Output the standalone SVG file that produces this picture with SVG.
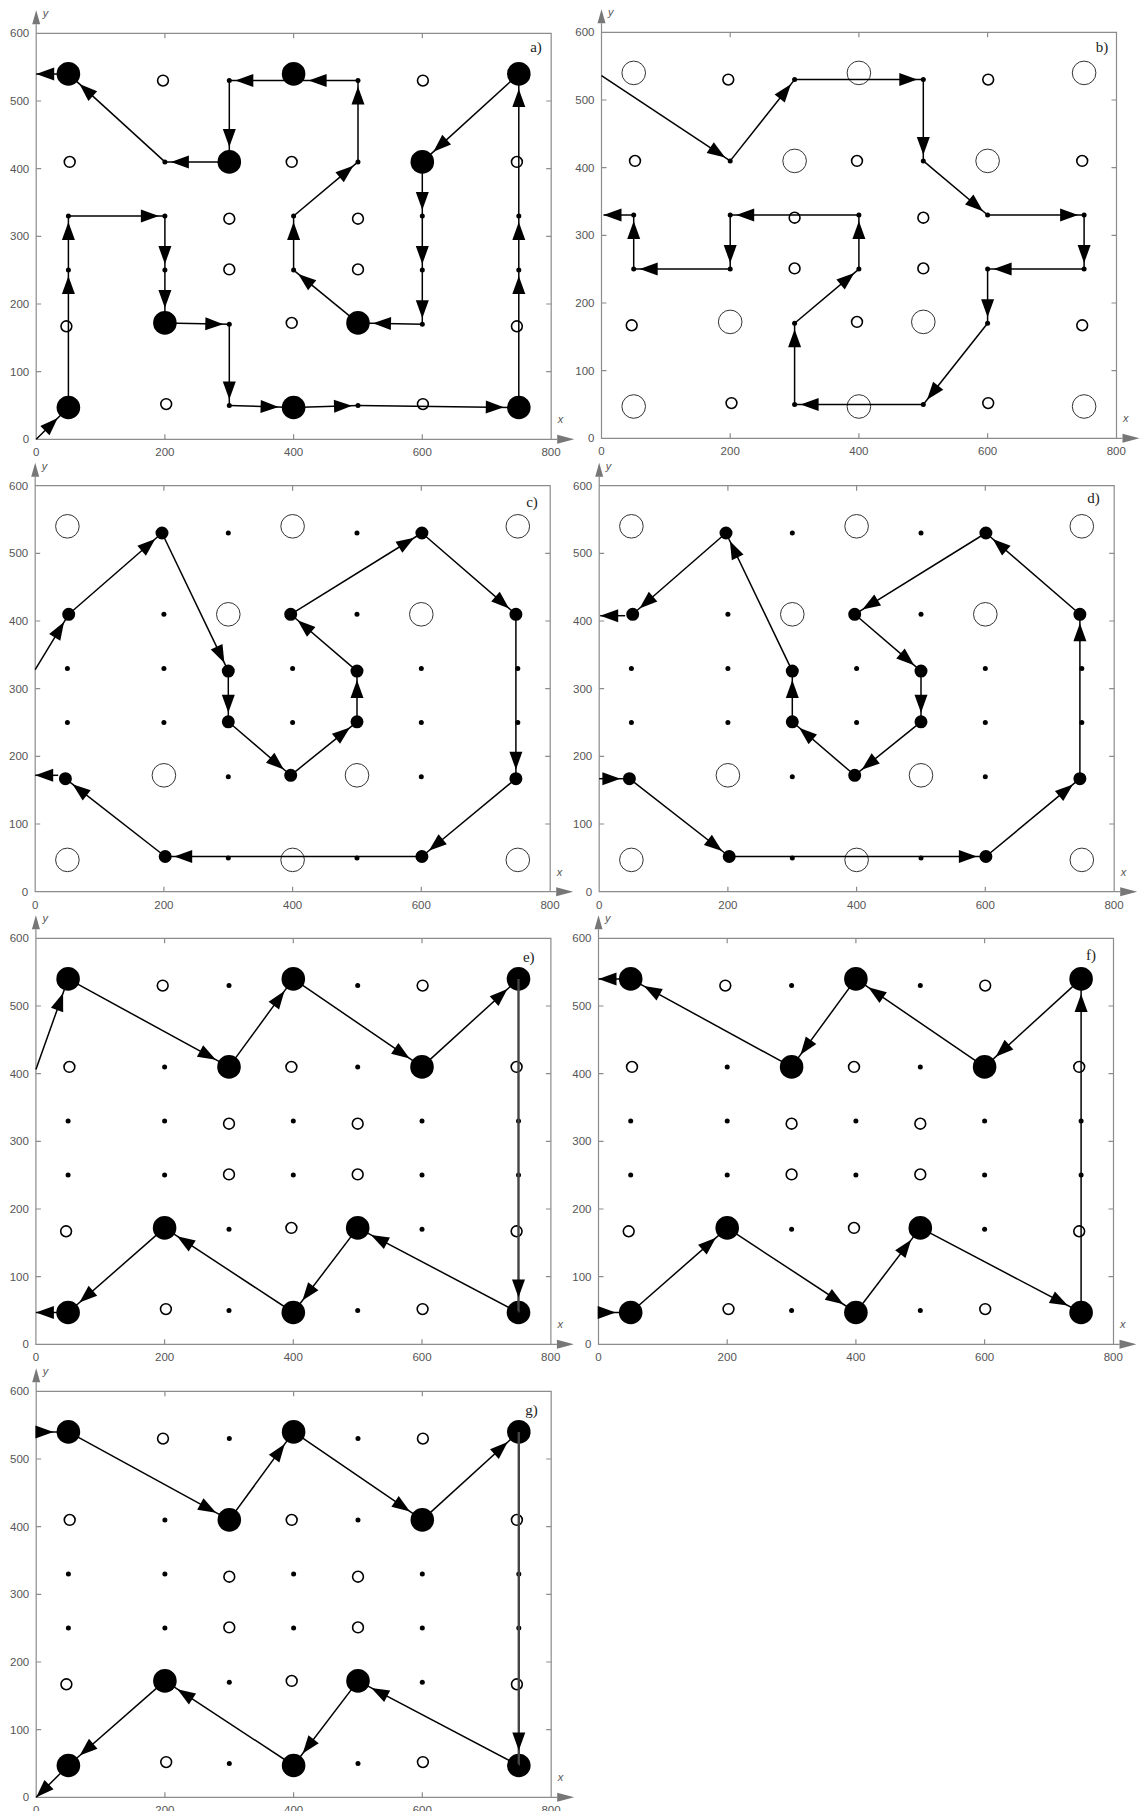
<svg xmlns="http://www.w3.org/2000/svg" width="1142" height="1811" viewBox="0 0 1142 1811">
<style>
.fr{fill:none;stroke:#8c8c8c;stroke-width:1.2}
.ah{fill:#777}
.tl{font-family:"Liberation Sans",Arial,sans-serif;font-size:11.5px;fill:#555}
.tx{text-anchor:middle}
.ty{text-anchor:end}
.ax{font-family:"Liberation Sans",Arial,sans-serif;font-size:11px;font-style:italic;fill:#555}
.pl{font-family:"Liberation Serif","Times New Roman",serif;font-size:15px;fill:#222;text-anchor:middle}
.bigF{fill:#000}
.bigO{fill:none;stroke:#333;stroke-width:1}
.midO{fill:none;stroke:#000;stroke-width:1.6}
.midF{fill:#000;stroke:#000;stroke-width:2.2}
.dot{fill:#000}
.c line{stroke:#000;stroke-width:1.5;fill:none}
.c .d{marker-end:url(#hd)}
.c .m{marker-end:url(#hm)}
.c .b{marker-end:url(#hb)}
.c .e{marker-end:url(#he)}
.c .g{stroke:#444;stroke-width:2.4}
</style>
<defs>
<marker id="hd" markerUnits="userSpaceOnUse" markerWidth="18" markerHeight="13" refX="24" refY="6.5" orient="auto" overflow="visible"><path d="M0,0 L18,6.5 L0,13 Z" fill="#000"/></marker>
<marker id="hm" markerUnits="userSpaceOnUse" markerWidth="18" markerHeight="13" refX="27" refY="6.5" orient="auto" overflow="visible"><path d="M0,0 L18,6.5 L0,13 Z" fill="#000"/></marker>
<marker id="hb" markerUnits="userSpaceOnUse" markerWidth="18" markerHeight="13" refX="33" refY="6.5" orient="auto" overflow="visible"><path d="M0,0 L18,6.5 L0,13 Z" fill="#000"/></marker>
<marker id="he" markerUnits="userSpaceOnUse" markerWidth="18" markerHeight="13" refX="18" refY="6.5" orient="auto" overflow="visible"><path d="M0,0 L18,6.5 L0,13 Z" fill="#000"/></marker>
<g id="frame">
<path class="fr" d="M0,-415V0H521M0,-406H515V0"/>
<path class="fr" d="M128.7,0v-5M257.4,0v-5M386.1,0v-5M128.7,-406v5M257.4,-406v5M386.1,-406v5M0,-67.7h5M0,-135.3h5M0,-203h5M0,-270.7h5M0,-338.3h5M515,-67.7h-5M515,-135.3h-5M515,-203h-5M515,-270.7h-5M515,-338.3h-5"/>
<path class="ah" d="M521,-4.5L538,0L521,4.5Z M-4,-415L0,-429L4,-415Z"/>
<g class="tl tx">
<text x="0" y="17">0</text><text x="128.7" y="17">200</text><text x="257.4" y="17">400</text><text x="386.1" y="17">600</text><text x="514.8" y="17">800</text>
</g>
<g class="tl ty">
<text x="-7" y="4">0</text><text x="-7" y="-63.7">100</text><text x="-7" y="-131.3">200</text><text x="-7" y="-199">300</text><text x="-7" y="-266.7">400</text><text x="-7" y="-334.3">500</text><text x="-7" y="-402">600</text>
</g>
<text class="ax" x="6.5" y="-422">y</text>
<text class="ax" x="521.5" y="-16">x</text>
</g>
<g id="pBig">
<circle cx="32.2" cy="-365.4" r="11.8"/><circle cx="257.4" cy="-365.4" r="11.8"/><circle cx="482.6" cy="-365.4" r="11.8"/>
<circle cx="193.1" cy="-277.4" r="11.8"/><circle cx="386.1" cy="-277.4" r="11.8"/>
<circle cx="128.7" cy="-116.4" r="11.8"/><circle cx="321.8" cy="-116.4" r="11.8"/>
<circle cx="32.2" cy="-31.8" r="11.8"/><circle cx="257.4" cy="-31.8" r="11.8"/><circle cx="482.6" cy="-31.8" r="11.8"/>
</g>
<g id="pMid">
<circle cx="126.8" cy="-358.7" r="5.4"/><circle cx="386.7" cy="-358.7" r="5.4"/>
<circle cx="33.5" cy="-277.4" r="5.4"/><circle cx="255.5" cy="-277.4" r="5.4"/><circle cx="480.7" cy="-277.4" r="5.4"/>
<circle cx="193.1" cy="-220.6" r="5.4"/><circle cx="321.8" cy="-220.6" r="5.4"/>
<circle cx="193.1" cy="-169.9" r="5.4"/><circle cx="321.8" cy="-169.9" r="5.4"/>
<circle cx="30.2" cy="-113" r="5.4"/><circle cx="255.5" cy="-116.4" r="5.4"/><circle cx="480.7" cy="-113" r="5.4"/>
<circle cx="130" cy="-35.2" r="5.4"/><circle cx="386.7" cy="-35.2" r="5.4"/>
</g>
<g id="pDot">
<circle cx="193.1" cy="-358.7" r="2.5"/><circle cx="321.8" cy="-358.7" r="2.5"/>
<circle cx="128.7" cy="-277.4" r="2.5"/><circle cx="321.8" cy="-277.4" r="2.5"/>
<circle cx="32.2" cy="-223.3" r="2.5"/><circle cx="128.7" cy="-223.3" r="2.5"/><circle cx="257.4" cy="-223.3" r="2.5"/><circle cx="386.1" cy="-223.3" r="2.5"/><circle cx="482.6" cy="-223.3" r="2.5"/>
<circle cx="32.2" cy="-169.2" r="2.5"/><circle cx="128.7" cy="-169.2" r="2.5"/><circle cx="257.4" cy="-169.2" r="2.5"/><circle cx="386.1" cy="-169.2" r="2.5"/><circle cx="482.6" cy="-169.2" r="2.5"/>
<circle cx="193.1" cy="-115" r="2.5"/><circle cx="386.1" cy="-115" r="2.5"/>
<circle cx="193.1" cy="-33.8" r="2.5"/><circle cx="321.8" cy="-33.8" r="2.5"/>
</g>
</defs>
<rect width="1142" height="1811" fill="#fff"/>

<g id="panel-a" transform="translate(36.2,439.3)">
<use href="#frame"/>
<g id="nodes-a"><use href="#pBig" class="bigF"/><use href="#pMid" class="midO"/><use href="#pDot" class="dot"/></g>
<g id="connectors-a" class="c">
<line class="b" x1="0" y1="0" x2="32.2" y2="-31.8"/>
<line class="d" x1="32.2" y1="-31.8" x2="32.2" y2="-169.2"/>
<line class="d" x1="32.2" y1="-169.2" x2="32.2" y2="-223.3"/>
<line class="d" x1="32.2" y1="-223.3" x2="128.7" y2="-223.3"/>
<line class="d" x1="128.7" y1="-223.3" x2="128.7" y2="-169.2"/>
<line class="b" x1="128.7" y1="-169.2" x2="128.7" y2="-116.4"/>
<line class="d" x1="128.7" y1="-116.4" x2="193.1" y2="-115"/>
<line class="d" x1="193.1" y1="-115" x2="193.1" y2="-33.8"/>
<line class="b" x1="193.1" y1="-33.8" x2="257.4" y2="-31.8"/>
<line class="d" x1="257.4" y1="-31.8" x2="321.8" y2="-33.8"/>
<line class="b" x1="321.8" y1="-33.8" x2="482.6" y2="-31.8"/>
<line class="d" x1="482.6" y1="-31.8" x2="482.6" y2="-169.2"/>
<line class="d" x1="482.6" y1="-169.2" x2="482.6" y2="-223.3"/>
<line class="b" x1="482.6" y1="-223.3" x2="482.6" y2="-365.4"/>
<line class="b" x1="482.6" y1="-365.4" x2="386.1" y2="-277.4"/>
<line class="d" x1="386.1" y1="-277.4" x2="386.1" y2="-223.3"/>
<line class="d" x1="386.1" y1="-223.3" x2="386.1" y2="-169.2"/>
<line class="d" x1="386.1" y1="-169.2" x2="386.1" y2="-115"/>
<line class="b" x1="386.1" y1="-115" x2="321.8" y2="-116.4"/>
<line class="d" x1="321.8" y1="-116.4" x2="257.4" y2="-169.2"/>
<line class="d" x1="257.4" y1="-169.2" x2="257.4" y2="-223.3"/>
<line class="d" x1="257.4" y1="-223.3" x2="321.8" y2="-277.4"/>
<line class="d" x1="321.8" y1="-277.4" x2="321.8" y2="-358.7"/>
<line class="b" x1="321.8" y1="-358.7" x2="257.4" y2="-358.7"/>
<line class="d" x1="257.4" y1="-358.7" x2="193.1" y2="-358.7"/>
<line class="b" x1="193.1" y1="-358.7" x2="193.1" y2="-277.4"/>
<line class="d" x1="193.1" y1="-277.4" x2="128.7" y2="-277.4"/>
<line class="b" x1="128.7" y1="-277.4" x2="32.2" y2="-365.4"/>
<line class="e" x1="32.2" y1="-365.4" x2="0" y2="-365.4"/>
</g>
<text class="pl" x="499.8" y="-387.3">a)</text>
</g>

<g id="panel-b" transform="translate(601.5,438.3)">
<use href="#frame"/>
<g id="nodes-b"><use href="#pBig" class="bigO"/><use href="#pMid" class="midO"/><use href="#pDot" class="dot"/></g>
<g id="connectors-b" class="c">
<line class="d" x1="0" y1="-362.7" x2="128.7" y2="-277.4"/>
<line class="d" x1="128.7" y1="-277.4" x2="193.1" y2="-358.7"/>
<line class="d" x1="193.1" y1="-358.7" x2="321.8" y2="-358.7"/>
<line class="d" x1="321.8" y1="-358.7" x2="321.8" y2="-277.4"/>
<line class="d" x1="321.8" y1="-277.4" x2="386.1" y2="-223.3"/>
<line class="d" x1="386.1" y1="-223.3" x2="482.6" y2="-223.3"/>
<line class="d" x1="482.6" y1="-223.3" x2="482.6" y2="-169.2"/>
<line class="d" x1="482.6" y1="-169.2" x2="386.1" y2="-169.2"/>
<line class="d" x1="386.1" y1="-169.2" x2="386.1" y2="-115"/>
<line class="d" x1="386.1" y1="-115" x2="321.8" y2="-33.8"/>
<line class="d" x1="321.8" y1="-33.8" x2="193.1" y2="-33.8"/>
<line class="d" x1="193.1" y1="-33.8" x2="193.1" y2="-115"/>
<line class="d" x1="193.1" y1="-115" x2="257.4" y2="-169.2"/>
<line class="d" x1="257.4" y1="-169.2" x2="257.4" y2="-223.3"/>
<line class="d" x1="257.4" y1="-223.3" x2="128.7" y2="-223.3"/>
<line class="d" x1="128.7" y1="-223.3" x2="128.7" y2="-169.2"/>
<line class="d" x1="128.7" y1="-169.2" x2="32.2" y2="-169.2"/>
<line class="d" x1="32.2" y1="-169.2" x2="32.2" y2="-223.3"/>
<line class="e" x1="32.2" y1="-223.3" x2="2" y2="-223.3"/>
</g>
<text class="pl" x="500.6" y="-386">b)</text>
</g>

<g id="panel-c" transform="translate(35.2,891.7)">
<use href="#frame"/>
<g id="nodes-c"><use href="#pBig" class="bigO"/><use href="#pMid" class="midF"/><use href="#pDot" class="dot"/></g>
<g id="connectors-c" class="c">
<line class="m" x1="0" y1="-222" x2="33.5" y2="-277.4"/>
<line class="m" x1="33.5" y1="-277.4" x2="126.8" y2="-358.7"/>
<line class="m" x1="126.8" y1="-358.7" x2="193.1" y2="-220.6"/>
<line class="m" x1="193.1" y1="-220.6" x2="193.1" y2="-169.9"/>
<line class="m" x1="193.1" y1="-169.9" x2="255.5" y2="-116.4"/>
<line class="m" x1="255.5" y1="-116.4" x2="321.8" y2="-169.9"/>
<line class="m" x1="321.8" y1="-169.9" x2="321.8" y2="-220.6"/>
<line class="m" x1="321.8" y1="-220.6" x2="255.5" y2="-277.4"/>
<line class="m" x1="255.5" y1="-277.4" x2="386.7" y2="-358.7"/>
<line class="m" x1="386.7" y1="-358.7" x2="480.7" y2="-277.4"/>
<line class="m" x1="480.7" y1="-277.4" x2="480.7" y2="-113"/>
<line class="m" x1="480.7" y1="-113" x2="386.7" y2="-35.2"/>
<line class="m" x1="386.7" y1="-35.2" x2="130" y2="-35.2"/>
<line class="m" x1="130" y1="-35.2" x2="30.2" y2="-113"/>
<line class="e" x1="23" y1="-116.4" x2="0" y2="-116.4"/>
</g>
<text class="pl" x="496.8" y="-385.2">c)</text>
</g>

<g id="panel-d" transform="translate(599.2,891.7)">
<use href="#frame"/>
<g id="nodes-d"><use href="#pBig" class="bigO"/><use href="#pMid" class="midF"/><use href="#pDot" class="dot"/></g>
<g id="connectors-d" class="c">
<line class="m" x1="0" y1="-113" x2="30.2" y2="-113"/>
<line class="m" x1="30.2" y1="-113" x2="130" y2="-35.2"/>
<line class="m" x1="130" y1="-35.2" x2="386.7" y2="-35.2"/>
<line class="m" x1="386.7" y1="-35.2" x2="480.7" y2="-113"/>
<line class="m" x1="480.7" y1="-113" x2="480.7" y2="-277.4"/>
<line class="m" x1="480.7" y1="-277.4" x2="386.7" y2="-358.7"/>
<line class="m" x1="386.7" y1="-358.7" x2="255.5" y2="-277.4"/>
<line class="m" x1="255.5" y1="-277.4" x2="321.8" y2="-220.6"/>
<line class="m" x1="321.8" y1="-220.6" x2="321.8" y2="-169.9"/>
<line class="m" x1="321.8" y1="-169.9" x2="255.5" y2="-116.4"/>
<line class="m" x1="255.5" y1="-116.4" x2="193.1" y2="-169.9"/>
<line class="m" x1="193.1" y1="-169.9" x2="193.1" y2="-220.6"/>
<line class="m" x1="193.1" y1="-220.6" x2="126.8" y2="-358.7"/>
<line class="m" x1="126.8" y1="-358.7" x2="33.5" y2="-277.4"/>
<line class="e" x1="26" y1="-276" x2="1" y2="-276"/>
</g>
<text class="pl" x="494.3" y="-388.4">d)</text>
</g>

<g id="panel-e" transform="translate(35.9,1344.3)">
<use href="#frame"/>
<g id="nodes-e"><use href="#pBig" class="bigF"/><use href="#pMid" class="midO"/><use href="#pDot" class="dot"/></g>
<g id="connectors-e" class="c">
<line class="b" x1="0" y1="-274.7" x2="32.2" y2="-365.4"/>
<line class="b" x1="32.2" y1="-365.4" x2="193.1" y2="-277.4"/>
<line class="b" x1="193.1" y1="-277.4" x2="257.4" y2="-365.4"/>
<line class="b" x1="257.4" y1="-365.4" x2="386.1" y2="-277.4"/>
<line class="b" x1="386.1" y1="-277.4" x2="482.6" y2="-365.4"/>
<line class="b g" x1="482.6" y1="-365.4" x2="482.6" y2="-31.8"/>
<line class="b" x1="482.6" y1="-31.8" x2="321.8" y2="-116.4"/>
<line class="b" x1="321.8" y1="-116.4" x2="257.4" y2="-31.8"/>
<line class="b" x1="257.4" y1="-31.8" x2="128.7" y2="-116.4"/>
<line class="b" x1="128.7" y1="-116.4" x2="32.2" y2="-31.8"/>
<line class="e" x1="32.2" y1="-31.8" x2="0" y2="-31.8"/>
</g>
<text class="pl" x="492.9" y="-382">e)</text>
</g>

<g id="panel-f" transform="translate(598.5,1344.3)">
<use href="#frame"/>
<g id="nodes-f"><use href="#pBig" class="bigF"/><use href="#pMid" class="midO"/><use href="#pDot" class="dot"/></g>
<g id="connectors-f" class="c">
<line class="b" x1="0" y1="-31.8" x2="32.2" y2="-31.8"/>
<line class="b" x1="32.2" y1="-31.8" x2="128.7" y2="-116.4"/>
<line class="b" x1="128.7" y1="-116.4" x2="257.4" y2="-31.8"/>
<line class="b" x1="257.4" y1="-31.8" x2="321.8" y2="-116.4"/>
<line class="b" x1="321.8" y1="-116.4" x2="482.6" y2="-31.8"/>
<line class="b" x1="482.6" y1="-31.8" x2="482.6" y2="-365.4"/>
<line class="b" x1="482.6" y1="-365.4" x2="386.1" y2="-277.4"/>
<line class="b" x1="386.1" y1="-277.4" x2="257.4" y2="-365.4"/>
<line class="b" x1="257.4" y1="-365.4" x2="193.1" y2="-277.4"/>
<line class="b" x1="193.1" y1="-277.4" x2="32.2" y2="-365.4"/>
<line class="e" x1="32.2" y1="-365.4" x2="0" y2="-365.4"/>
</g>
<text class="pl" x="492.5" y="-384.3">f)</text>
</g>

<g id="panel-g" transform="translate(36.2,1797.3)">
<use href="#frame"/>
<g id="nodes-g"><use href="#pBig" class="bigF"/><use href="#pMid" class="midO"/><use href="#pDot" class="dot"/></g>
<g id="connectors-g" class="c">
<line class="b" x1="0" y1="-365.4" x2="32.2" y2="-365.4"/>
<line class="b" x1="32.2" y1="-365.4" x2="193.1" y2="-277.4"/>
<line class="b" x1="193.1" y1="-277.4" x2="257.4" y2="-365.4"/>
<line class="b" x1="257.4" y1="-365.4" x2="386.1" y2="-277.4"/>
<line class="b" x1="386.1" y1="-277.4" x2="482.6" y2="-365.4"/>
<line class="b g" x1="482.6" y1="-365.4" x2="482.6" y2="-31.8"/>
<line class="b" x1="482.6" y1="-31.8" x2="321.8" y2="-116.4"/>
<line class="b" x1="321.8" y1="-116.4" x2="257.4" y2="-31.8"/>
<line class="b" x1="257.4" y1="-31.8" x2="128.7" y2="-116.4"/>
<line class="b" x1="128.7" y1="-116.4" x2="32.2" y2="-31.8"/>
<line class="e" x1="32.2" y1="-31.8" x2="0" y2="0"/>
</g>
<text class="pl" x="495.2" y="-382.6">g)</text>
</g>
</svg>
